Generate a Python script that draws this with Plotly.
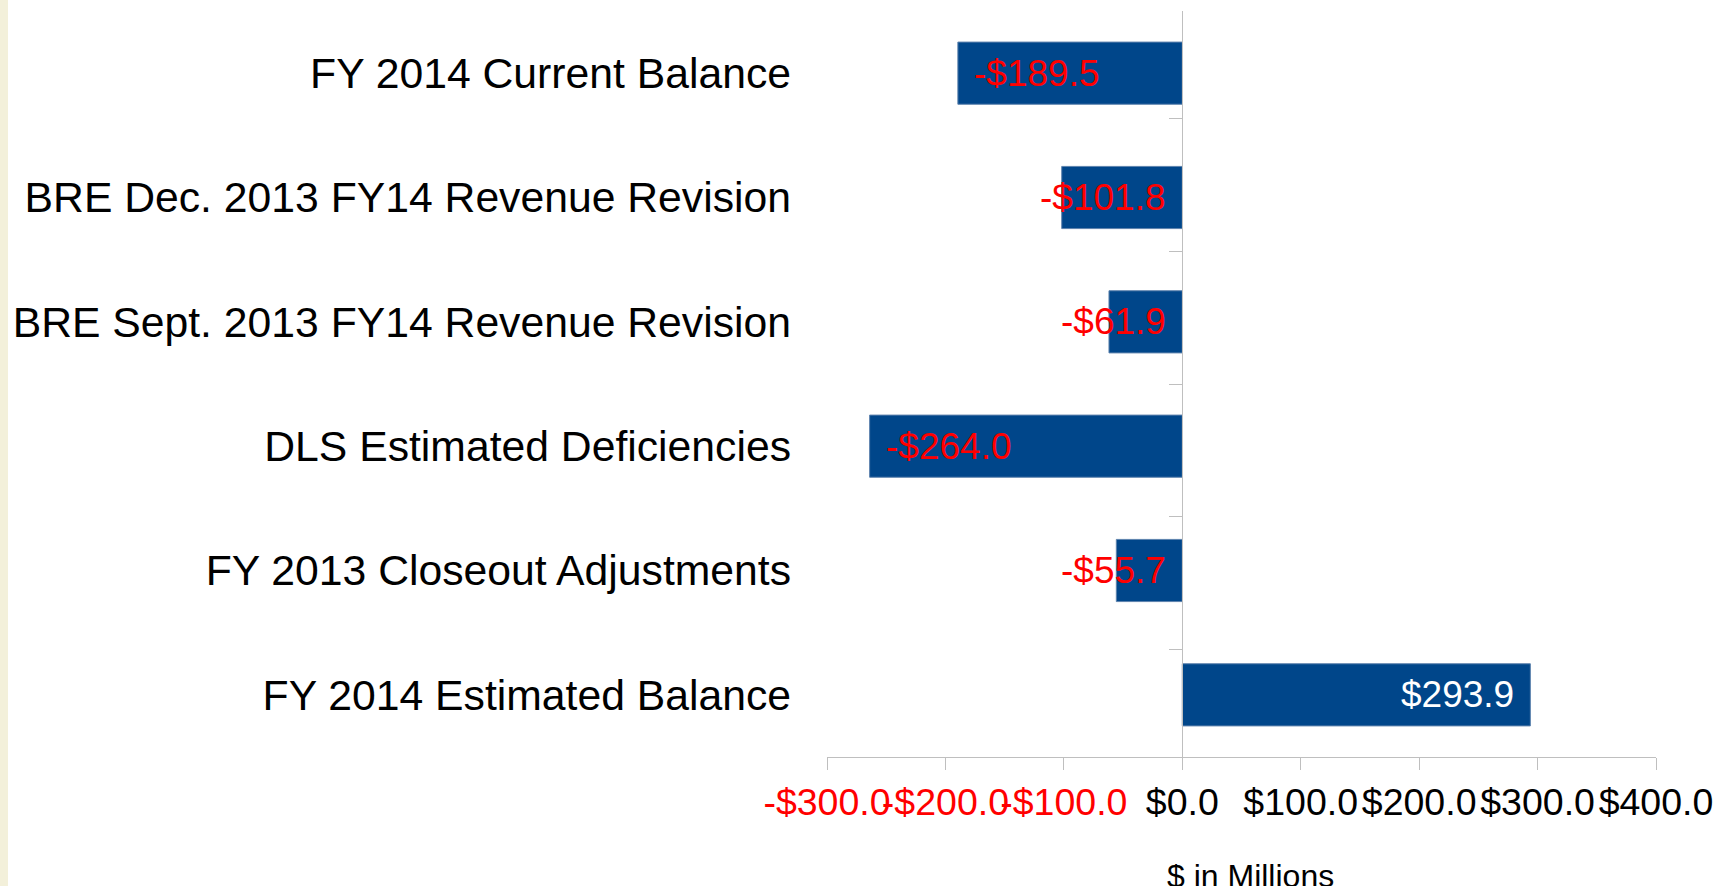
import plotly.graph_objects as go

# data, top to bottom as in the chart
categories = [
    "FY 2014 Current Balance",
    "BRE Dec. 2013 FY14 Revenue Revision",
    "BRE Sept. 2013 FY14 Revenue Revision",
    "DLS Estimated Deficiencies",
    "FY 2013 Closeout Adjustments",
    "FY 2014 Estimated Balance",
]
values = [-189.5, -101.8, -61.9, -264.0, -55.7, 293.9]
x_ticks = [-300, -200, -100, 0, 100, 200, 300, 400]
x_title = "$ in Millions"

FONT = "Liberation Sans, Arial, sans-serif"
BLUE = "#00468A"
RED = "#FF0000"
GREY = "#BFBFBF"

W, H = 1731, 886
ml, mr, mt, mb = 827, 75, 11, 129
plot_w = W - ml - mr
xmin, xmax = x_ticks[0], x_ticks[-1]
px_per_unit = plot_w / (xmax - xmin)


def money(v):
    return f"-${abs(v):.1f}" if v < 0 else f"${v:.1f}"


def tick_text(v):
    s = money(v)
    return f'<span style="color:{RED}">{s}</span>' if v < 0 else s


fig = go.Figure()
fig.add_trace(go.Bar(
    y=categories, x=values, orientation="h",
    marker=dict(color=BLUE, line=dict(color="#5d82ad", width=1)),
    width=0.5, hoverinfo="skip", showlegend=False,
))
# dummy trace so the zero-line axis (y2) gets the categories
fig.add_trace(go.Scatter(
    y=categories, x=[0] * len(categories), yaxis="y2", mode="markers",
    marker=dict(opacity=0), hoverinfo="skip", showlegend=False,
))

# value labels: inside the bar end, or pushed against zero when they don't fit
label_size = 37
pad = 15
for cat, v in zip(categories, values):
    txt = money(v)
    est_w = label_size * (0.556 * sum(c.isdigit() or c == "$" for c in txt)
                          + 0.278 * txt.count(".") + 0.333 * txt.count("-"))
    bar_px = abs(v) * px_per_unit
    col = RED if v < 0 else "white"
    if v < 0:
        if bar_px >= est_w + 2 * pad:
            xa, anchor, shift = v, "left", pad
        else:
            xa, anchor, shift = 0, "right", -pad
    else:
        xa, anchor, shift = v, "right", -pad
    fig.add_annotation(x=xa, y=cat, text=txt, showarrow=False, xanchor=anchor,
                       yanchor="middle", xshift=shift, borderpad=0,
                       font=dict(family=FONT, size=label_size, color=col))

# x axis title (placed a little right of centre, like the original)
fig.add_annotation(x=0.5, y=0, xref="paper", yref="paper", text=x_title,
                   showarrow=False, xanchor="center", yanchor="top",
                   xshift=9, yshift=-99,
                   font=dict(family=FONT, size=32, color="black"))

# beige strip at the left edge of the slide
fig.add_shape(type="rect", xref="paper", yref="paper",
              x0=-ml / plot_w, x1=(8 - ml) / plot_w, y0=-2, y1=2,
              fillcolor="#F3F0DA", line=dict(width=0), layer="below")

fig.update_layout(
    width=W, height=H,
    margin=dict(l=ml, r=mr, t=mt, b=mb, autoexpand=False),
    paper_bgcolor="white", plot_bgcolor="white",
    font=dict(family=FONT, color="black"),
    bargap=0.5,
    xaxis=dict(
        range=[xmin, xmax], tickvals=x_ticks,
        ticktext=[tick_text(v) for v in x_ticks],
        tickangle=0, tickfont=dict(size=37.5, family=FONT),
        ticks="outside", ticklen=12, tickcolor=GREY,
        showline=True, linecolor=GREY, linewidth=1,
        showgrid=False, zeroline=False, ticklabelstandoff=0,
    ),
    yaxis=dict(
        type="category", autorange="reversed",
        tickfont=dict(size=42.7, family=FONT),
        ticks="", showline=False, showgrid=False, zeroline=False,
        ticklabelstandoff=35,
    ),
    yaxis2=dict(
        type="category", autorange="reversed", overlaying="y",
        anchor="free", position=(0 - xmin) / (xmax - xmin), side="left",
        showticklabels=False, ticks="outside", ticklen=13, tickcolor=GREY,
        tickson="boundaries", showline=True, linecolor=GREY, linewidth=1,
        showgrid=False, zeroline=False,
    ),
)

fig.write_html("out.html", config={"displayModeBar": False},
               post_script="document.body.style.margin='0';")
